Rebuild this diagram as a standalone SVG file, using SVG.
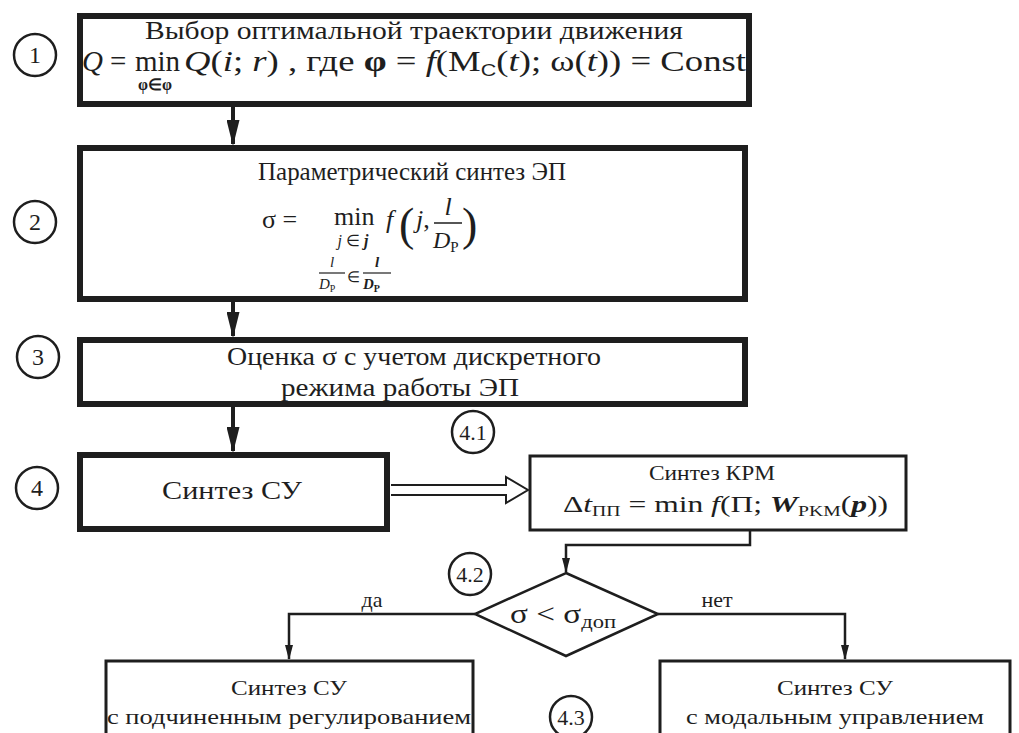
<svg xmlns="http://www.w3.org/2000/svg" width="1019" height="733" viewBox="0 0 1019 733">
<style>
text{font-family:"Liberation Serif","Times New Roman",serif;fill:#1e1e1e}
.t29{font-size:29px}
.t26{font-size:26px}
.t24{font-size:24px}
.t22{font-size:22px}
.c{text-anchor:middle}
.thick{fill:#fff;stroke:#1e1e1e;stroke-width:6}
.thin{fill:#fff;stroke:#1e1e1e;stroke-width:3}
.circ{fill:#fff;stroke:#1e1e1e;stroke-width:2.5}
.ln{fill:none;stroke:#1e1e1e;stroke-width:2.5}
.ln3{fill:none;stroke:#1e1e1e;stroke-width:4}
.it{font-style:italic}
.b{font-weight:bold}
</style>
<defs>
<marker id="ah" markerWidth="26" markerHeight="13" refX="24" refY="6.5" orient="auto" markerUnits="userSpaceOnUse" viewBox="0 0 26 13">
<path d="M0,0 L26,6.5 L0,13 z" fill="#1e1e1e"/>
</marker>
<marker id="as" markerWidth="15" markerHeight="8" refX="14" refY="4" orient="auto" markerUnits="userSpaceOnUse" viewBox="0 0 15 8">
<path d="M0,0 L15,4 L0,8 z" fill="#1e1e1e"/>
</marker>
</defs>
<rect width="1019" height="733" fill="#fff"/>

<g id="connectors">
<line class="ln3" x1="233" y1="107" x2="233" y2="144" marker-end="url(#ah)"/>
<line class="ln3" x1="233" y1="302" x2="233" y2="336" marker-end="url(#ah)"/>
<line class="ln3" x1="233" y1="407" x2="233" y2="451" marker-end="url(#ah)"/>
<path d="M391,485 H506 V477 L528,490 L506,503 V495 H391" fill="#fff" stroke="#1e1e1e" stroke-width="2"/>
<path class="ln" d="M750,530 V545 H566 V572" marker-end="url(#as)"/>
<path class="ln" d="M475,614 H289 V659" marker-end="url(#as)"/>
<path class="ln" d="M658,614 H845 V659" marker-end="url(#as)"/>
<text class="t22 c" x="372" y="607">да</text>
<text class="t22 c" x="717" y="607">нет</text>
</g>

<g id="n1">
<rect class="thick" x="80" y="16" width="669" height="88"/>
<text class="c" font-size="25" x="414" y="39" textLength="538" lengthAdjust="spacingAndGlyphs">Выбор оптимальной траектории движения</text>
<text class="t29 it" x="82" y="71">Q</text>
<text class="t29" x="110" y="71">=</text>
<text class="t29" x="135" y="71">min</text>
<text x="155" y="90" font-size="16" class="c b">φ∈φ</text>
<text class="t29" x="184" y="71" textLength="562" lengthAdjust="spacingAndGlyphs"><tspan class="it">Q</tspan>(<tspan class="it">i</tspan>; <tspan class="it">r</tspan>) , где <tspan class="b">φ</tspan> = <tspan class="it">f</tspan>(M<tspan font-size="17" font-family="Liberation Sans, sans-serif" dy="5">C</tspan><tspan dy="-5">(</tspan><tspan class="it">t</tspan>); ω(<tspan class="it">t</tspan>)) = Const</text>
</g>
<g id="c1"><circle class="circ" cx="35" cy="55" r="21"/><text class="t24 c" x="35" y="63">1</text></g>

<g id="n2">
<rect class="thick" x="80" y="148" width="665" height="151"/>
<text class="t26 c" x="412" y="180" textLength="308" lengthAdjust="spacingAndGlyphs">Параметрический синтез ЭП</text>
<text class="t26" x="262" y="228">σ =</text>
<text class="t26" x="334" y="225">min</text>
<text x="353" y="246" font-size="16" class="c"><tspan class="it">j</tspan> ∈ <tspan class="it b">j</tspan></text>
<text class="t26 it" x="386" y="228">f</text>
<text x="399" y="240" font-size="46">(</text>
<text class="t26" x="416" y="228"><tspan class="it">j</tspan>,</text>
<text class="t26 it c" x="448" y="215">l</text>
<line x1="434" y1="223" x2="462" y2="223" stroke="#1e1e1e" stroke-width="1.5"/>
<text class="t24 it" x="433" y="248">D<tspan font-size="15" font-style="normal" dy="4">P</tspan></text>
<text x="462" y="240" font-size="46">)</text>
<text x="332" y="267" font-size="15" class="it c">l</text>
<line x1="319" y1="273" x2="345" y2="273" stroke="#1e1e1e" stroke-width="1.2"/>
<text x="319" y="289" font-size="15" class="it">D<tspan font-size="10" font-style="normal" dy="3">P</tspan></text>
<text x="347" y="282" font-size="15">∈</text>
<text x="377" y="267" font-size="15" class="it b c">l</text>
<line x1="363" y1="273" x2="391" y2="273" stroke="#1e1e1e" stroke-width="1.2"/>
<text x="363" y="289" font-size="15" class="it b">D<tspan font-size="10" font-style="normal" dy="3">P</tspan></text>
</g>
<g id="c2"><circle class="circ" cx="35" cy="222" r="21"/><text class="t24 c" x="35" y="230">2</text></g>

<g id="n3">
<rect class="thick" x="80" y="340" width="665" height="64"/>
<text class="t26 c" x="414" y="365" textLength="374" lengthAdjust="spacingAndGlyphs">Оценка σ с учетом дискретного</text>
<text class="t26 c" x="400" y="396" textLength="238" lengthAdjust="spacingAndGlyphs">режима работы ЭП</text>
</g>
<g id="c3"><circle class="circ" cx="38" cy="357" r="21"/><text class="t24 c" x="38" y="365">3</text></g>

<g id="n4">
<rect class="thick" x="80" y="455" width="307" height="74"/>
<text class="t26 c" x="232" y="499" textLength="140" lengthAdjust="spacingAndGlyphs">Синтез СУ</text>
</g>
<g id="c4"><circle class="circ" cx="37" cy="488" r="21"/><text class="t24 c" x="37" y="496">4</text></g>

<g id="n41">
<rect class="thin" x="530" y="456" width="376" height="74"/>
<text class="t22 c" x="712" y="480" textLength="126" lengthAdjust="spacingAndGlyphs">Синтез КРМ</text>
<text class="t24" x="563" y="512" textLength="325" lengthAdjust="spacingAndGlyphs">Δ<tspan class="it">t</tspan><tspan font-size="15" dy="4">ПП</tspan><tspan dy="-4"> = min </tspan><tspan class="it">f</tspan>(П; <tspan class="it b">W</tspan><tspan font-size="15" dy="4">PKM</tspan><tspan dy="-4">(</tspan><tspan class="it b">p</tspan>))</text>
</g>
<g id="c41"><circle class="circ" cx="473" cy="432" r="21"/><text class="t22 c" x="473" y="440">4.1</text></g>

<g id="n42">
<polygon points="566,573 658,614 566,656 475,614" fill="#fff" stroke="#1e1e1e" stroke-width="2.5"/>
<text x="510" y="623" font-size="28" textLength="106" lengthAdjust="spacingAndGlyphs">σ &lt; σ<tspan font-size="19" dy="5">доп</tspan></text>
</g>
<g id="c42"><circle class="circ" cx="470" cy="574" r="21"/><text class="t22 c" x="470" y="582">4.2</text></g>
<g id="c43"><circle class="circ" cx="571" cy="717" r="21"/><text class="t22 c" x="571" y="725">4.3</text></g>

<g id="n5">
<rect class="thin" x="106" y="661" width="367" height="90"/>
<text class="t22 c" x="289" y="695" textLength="116" lengthAdjust="spacingAndGlyphs">Синтез СУ</text>
<text class="t22 c" x="289" y="724" textLength="364" lengthAdjust="spacingAndGlyphs">с подчиненным регулированием</text>
</g>
<g id="n6">
<rect class="thin" x="660" y="661" width="350" height="90"/>
<text class="t22 c" x="835" y="695" textLength="116" lengthAdjust="spacingAndGlyphs">Синтез СУ</text>
<text class="t22 c" x="835" y="724" textLength="298" lengthAdjust="spacingAndGlyphs">с модальным управлением</text>
</g>
</svg>
